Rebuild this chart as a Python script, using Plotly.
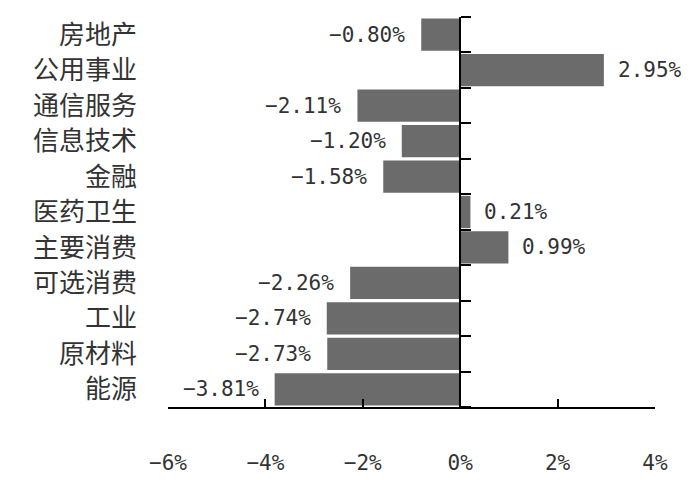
import plotly.graph_objects as go

categories = ["房地产", "公用事业", "通信服务", "信息技术", "金融", "医药卫生",
              "主要消费", "可选消费", "工业", "原材料", "能源"]
values = [-0.80, 2.95, -2.11, -1.20, -1.58, 0.21, 0.99, -2.26, -2.74, -2.73, -3.81]
x_ticks = [-6, -4, -2, 0, 2, 4]

xmin, xmax = min(x_ticks), max(x_ticks)
n = len(categories)

def fmt(v, nd=2):
    return f"{v:.{nd}f}%".replace("-", "\u2212")

fig = go.Figure()
fig.add_trace(go.Bar(
    x=values, y=categories, orientation="h",
    marker=dict(color="#6b6b6b", line=dict(width=0)),
    showlegend=False, hoverinfo="skip",
))
# helper trace so the zero-position axis is drawn
fig.add_trace(go.Scatter(x=[], y=[], yaxis="y2", showlegend=False))

num_font = dict(family="DejaVu Sans Mono, Liberation Mono, monospace", size=21, color="#333333")

for c, v in zip(categories, values):
    fig.add_annotation(
        x=v, y=c, xref="x", yref="y", text=fmt(v), showarrow=False,
        xanchor="right" if v < 0 else "left",
        xshift=-14 if v < 0 else 12, font=num_font,
    )

fig.update_layout(
    width=692, height=474,
    margin=dict(l=160, r=45, t=9, b=75),
    plot_bgcolor="white", paper_bgcolor="white",
    bargap=0.09,
    xaxis=dict(
        range=[xmin, xmax], tickvals=x_ticks,
        ticktext=[fmt(t, 0) for t in x_ticks],
        showgrid=False, zeroline=False, automargin=False,
        showline=True, linecolor="black", linewidth=1.5,
        ticks="inside", ticklen=8, tickwidth=1.5, tickcolor="black",
        tickfont=num_font, ticklabelstandoff=36,
    ),
    yaxis=dict(
        categoryorder="array", categoryarray=categories,
        range=[n - 0.5, -0.5], automargin=False,
        showgrid=False, zeroline=False, showline=False, ticks="",
        tickfont=dict(family="Noto Sans CJK SC", size=26, color="#333333"),
        ticklabelstandoff=30,
    ),
    yaxis2=dict(
        overlaying="y", anchor="free", side="right", automargin=False,
        position=(0 - xmin) / (xmax - xmin),
        range=[n - 0.5, -0.5],
        tickvals=[i - 0.5 for i in range(n + 1)],
        showticklabels=False, showgrid=False, zeroline=False,
        showline=True, linecolor="black", linewidth=1.5,
        ticks="outside", ticklen=10, tickwidth=1.5, tickcolor="black",
    ),
)

fig.write_html("out.html")
